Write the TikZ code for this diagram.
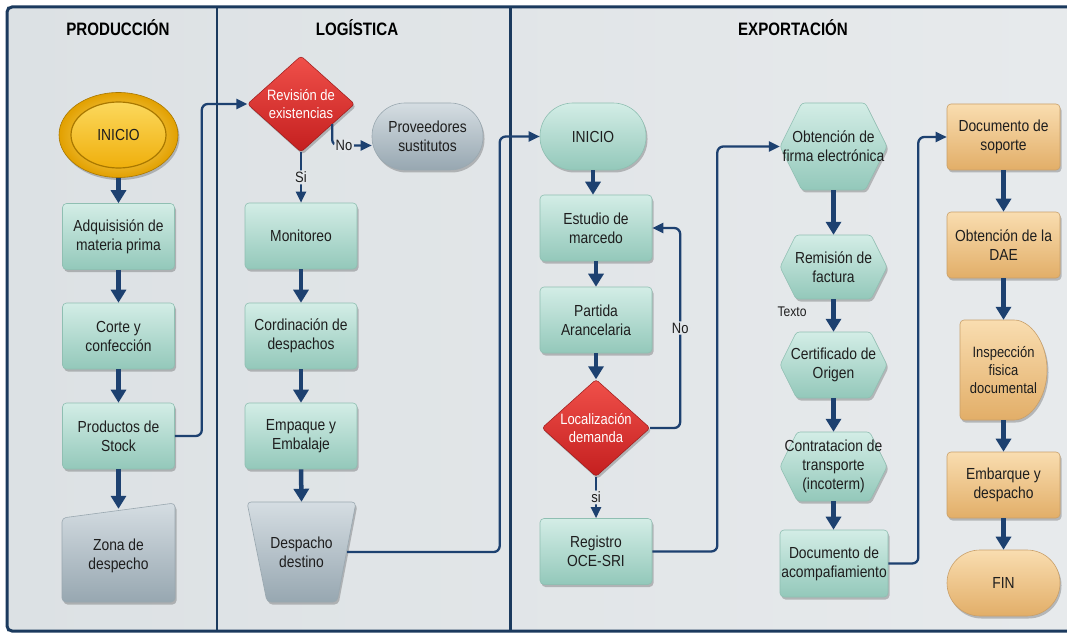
\documentclass[tikz,border=0pt]{standalone}
\usepackage{fontspec}
\setmainfont[FakeStretch=0.865]{Liberation Sans}
\newfontfamily\ttlfont[FakeStretch=0.84]{Liberation Sans}
\usetikzlibrary{arrows.meta,shadows,calc,shapes.geometric}

\definecolor{navy}{HTML}{1D4170}
\definecolor{framec}{HTML}{1B3A5E}
\definecolor{tealT}{HTML}{D3EDE6}
\definecolor{tealD}{HTML}{93C8BA}
\definecolor{tealB}{HTML}{8FBFB2}
\definecolor{grayT}{HTML}{D5DDE2}
\definecolor{grayD}{HTML}{97A7B1}
\definecolor{grayB}{HTML}{9AA8B0}
\definecolor{orT}{HTML}{F9DDB0}
\definecolor{orD}{HTML}{E2AE68}
\definecolor{orB}{HTML}{C9A06A}
\definecolor{redT}{HTML}{F0504A}
\definecolor{redD}{HTML}{C41F1F}
\definecolor{txtc}{HTML}{1E1E1E}
\definecolor{bgL}{HTML}{DCE1E4}
\definecolor{bgR}{HTML}{E7EAEC}
\definecolor{labbg}{HTML}{E2E6E9}
\definecolor{goldL}{HTML}{FFE68A}
\definecolor{goldD}{HTML}{E2A000}
\definecolor{goldB}{HTML}{A97800}
\definecolor{goldIT}{HTML}{FCD85C}
\definecolor{goldID}{HTML}{EFAF0C}

\tikzset{
 nf/.style={font=\fontsize{16}{19}\selectfont},
 shad/.style={drop shadow={opacity=0.22, shadow xshift=1.5pt, shadow yshift=-2.5pt, fill=black}},
 box/.style={rectangle, rounded corners=4pt, line width=0.6pt, shad, minimum width=112pt, minimum height=66pt, align=center, text=txtc, nf, inner sep=0pt},
 tealbox/.style={box, draw=tealB, top color=tealT, bottom color=tealD},
 graybox/.style={box, draw=grayB, top color=grayT, bottom color=grayD},
 orbox/.style={box, draw=orB, top color=orT, bottom color=orD},
 tealfill/.style={draw=tealB, line width=0.6pt, top color=tealT, bottom color=tealD, shad},
 grayfill/.style={draw=grayB, line width=0.6pt, top color=grayT, bottom color=grayD, shad},
 orfill/.style={draw=orB, line width=0.6pt, top color=orT, bottom color=orD, shad},
 redfill/.style={draw=redD!80!black, line width=0.5pt, top color=redT, bottom color=redD, shad},
 lbl/.style={rectangle, inner sep=0pt, align=center, text=txtc, nf},
 wlbl/.style={lbl, text=white, font=\fontsize{15}{18}\selectfont},
 tag/.style={fill=labbg, inner sep=1.5pt, text=txtc, font=\fontsize{15}{17}\selectfont},
 flow/.style={draw=navy, line width=4.5pt, -{Triangle[length=13pt,width=15pt]}},
 link/.style={draw=navy, line width=2.3pt, rounded corners=6pt, -{Triangle[length=11pt,width=10pt]}},
 ttl/.style={font=\ttlfont\bfseries\fontsize{18}{21}\selectfont, text=black, inner sep=0pt},
}

% name, x, y, half width, half height, full width, full height, text
\newcommand{\myhex}[8]{%
 \path[tealfill, rounded corners=3pt] ({#2-#4},#3) -- ({#2-#4+0.5*#5},{#3+#5}) -- ({#2+#4-0.5*#5},{#3+#5}) -- ({#2+#4},#3) -- ({#2+#4-0.5*#5},{#3-#5}) -- ({#2-#4+0.5*#5},{#3-#5}) -- cycle;
 \node[lbl, minimum width=#6pt, minimum height=#7pt] (#1) at (#2,#3) {#8};}
% x, y, half width, half height
\newcommand{\mydiam}[4]{%
 \path[redfill, rounded corners=3pt] ({#1-#3},#2) -- (#1,{#2+#4}) -- ({#1+#3},#2) -- (#1,{#2-#4}) -- cycle;}

\begin{document}
\begin{tikzpicture}[x=1pt,y=1pt]
\useasboundingbox (0,0) rectangle (1067,633);
\fill[white] (0,0) rectangle (1067,633);
\shade[left color=bgL, right color=bgR] (7,2) rectangle (1067,626);
\draw[framec, line width=3pt, rounded corners=5pt] (1069,626) -- (7,626) -- (7,2) -- (1069,2);
\draw[framec, line width=2.5pt] (217,2) -- (217,626);
\draw[framec, line width=3pt] (510.5,2) -- (510.5,626);

% titles
\node[ttl] (t1) at (118,605) {PRODUCCIÓN};
\node[ttl] (t2) at (357,605) {LOGÍSTICA};
\node[ttl] (t3) at (793,605) {EXPORTACIÓN};

% ---------- PRODUCCION ----------
\node[ellipse, minimum width=119pt, minimum height=85pt, inner color=goldL, outer color=goldD, draw=goldB, line width=0.6pt, shad] (ini1) at (118.5,498) {};
\node[lbl, ellipse, minimum width=95pt, minimum height=66pt, draw=goldB, line width=1.2pt, top color=goldIT, bottom color=goldID] (ini1in) at (ini1.center) {INICIO};
\node[tealbox] (adq) at (118.5,396.5) {Adquisisión de\\materia prima};
\node[tealbox] (corte) at (118.5,297) {Corte y\\confección};
\node[tealbox] (prod) at (118.5,197) {Productos de\\Stock};
\path[grayfill, rounded corners=4pt] (62,115) -- (175,130) -- (175,31) -- (62,31) -- cycle;
\node[lbl, minimum width=113pt, minimum height=93pt] (zona) at (118.5,77.5) {Zona de\\despecho};

% ---------- LOGISTICA ----------
\mydiam{301}{529}{53.5}{48}
\node[wlbl, minimum width=107pt, minimum height=96pt] (rev) at (301,529) {Revisión de\\existencias};
\node[graybox, rounded corners=33pt, minimum width=111pt, minimum height=67pt] (prov) at (427.5,496.5) {Proveedores\\sustitutos};
\node[tealbox] (mon) at (301,397) {Monitoreo};
\node[tealbox] (cord) at (301,297) {Cordinación de\\despachos};
\node[tealbox] (emp) at (301,197) {Empaque y\\Embalaje};
\path[grayfill, rounded corners=4pt] (247,131) -- (356,131) -- (337,31) -- (267,31) -- cycle;
\node[lbl, minimum width=91pt, minimum height=100pt] (desp) at (301.5,81) {Despacho\\destino};

% ---------- EXPORTACION ----------
\node[tealbox, rounded corners=33pt, minimum width=106pt, minimum height=67pt] (ini2) at (593,496.5) {INICIO};
\node[tealbox] (est) at (596,405) {Estudio de\\marcedo};
\node[tealbox] (part) at (596,313) {Partida\\Arancelaria};
\mydiam{596}{205}{54}{48.5}
\node[wlbl, minimum width=108pt, minimum height=97pt] (loc) at (596,205) {Localización\\demanda};
\node[tealbox] (reg) at (596,81.5) {Registro\\OCE-SRI};

\myhex{obt}{833.5}{486.5}{53.5}{43.5}{107}{87}{Obtención de\\firma electrónica}
\myhex{rem}{833.5}{366}{53.5}{32}{107}{64}{Remisión de\\factura}
\myhex{cert}{833.5}{268}{53.5}{33}{107}{66}{Certificado de\\Origen}
\myhex{contr}{833.5}{166.5}{53.5}{34.5}{107}{69}{Contratacion de\\transporte\\(incoterm)}
\node[tealbox, minimum width=108pt, minimum height=67pt] (doc) at (834,69.5) {Documento de\\acompafiamiento};
\node[lbl, font=\fontsize{14}{16}\selectfont] (texto) at (792,321) {Texto};

\node[orbox, minimum width=113pt] (sop) at (1003.5,496) {Documento de\\soporte};
\node[orbox, minimum width=113pt] (dae) at (1003.5,388) {Obtención de la\\DAE};
\path[orfill, rounded corners=4pt] (960,313) -- (1010,313) arc[start angle=90, end angle=-90, x radius=37, y radius=50] -- (960,213) -- cycle;
\node[lbl, minimum width=87pt, minimum height=100pt, font=\fontsize{15}{18}\selectfont] (insp) at (1003.5,263) {Inspección\\fisica\\documental};
\node[orbox, minimum width=113pt] (emb) at (1003.5,148) {Embarque y\\despacho};
\node[orbox, rounded corners=33pt, minimum width=113pt] (fin) at (1003.5,50) {FIN};

% ---------- connectors ----------
\draw[flow] (ini1.south) -- (adq.north);
\draw[flow] (adq.south) -- (corte.north);
\draw[flow] (corte.south) -- (prod.north);
\draw[flow] (prod.south) -- (zona.north);
\draw[link] (prod.east) -- ++(27,0) |- (rev.west);

\draw[link] (rev.south) -- node[tag] {Si} (mon.north);
\draw[link] ($(rev.south)!0.58!(rev.east)$) |- node[pos=0.65, tag] {No} ($(prov.west)+(0,-9)$);
\draw[flow] (mon.south) -- (cord.north);
\draw[flow] (cord.south) -- (emp.north);
\draw[flow] (emp.south) -- (desp.north);
\draw[link] (desp.east) -- ++(152.5,0) |- (ini2.west);

\draw[flow] (ini2.south) -- (est.north -| ini2.south);
\draw[flow] (est.south) -- (part.north);
\draw[flow] (part.south) -- (loc.north);
\draw[link] (loc.south) -- node[tag] {si} (reg.north);
\draw[link] (loc.east) -- ++(30,0) |- node[pos=0.25, tag] {No} (est.east);
\draw[link] (reg.east) -- ++(65,0) |- (obt.west);

\draw[flow] (obt.south) -- (rem.north);
\draw[flow] (rem.south) -- (cert.north);
\draw[flow] (cert.south) -- (contr.north);
\draw[flow] (contr.south) -- (doc.north -| contr.south);
\draw[link] (doc.east) -- ++(30,0) |- (sop.west);

\draw[flow] (sop.south) -- (dae.north);
\draw[flow] (dae.south) -- (insp.north);
\draw[flow] (insp.south) -- (emb.north);
\draw[flow] (emb.south) -- (fin.north);
\end{tikzpicture}
\end{document}
